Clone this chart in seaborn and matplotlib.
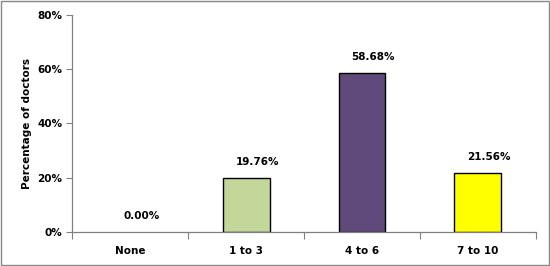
import matplotlib
matplotlib.use("Agg")
import matplotlib.pyplot as plt
import seaborn as sns
import pandas as pd
from matplotlib.ticker import PercentFormatter, FixedLocator
from matplotlib.patches import Rectangle

categories = ["None", "1 to 3", "4 to 6", "7 to 10"]
values = [0.00, 19.76, 58.68, 21.56]
colors = ["#FFFFFF", "#C4D79B", "#604A7B", "#FFFF00"]
labels = ["0.00%", "19.76%", "58.68%", "21.56%"]
yticks = [0, 20, 40, 60, 80]

df = pd.DataFrame({"cat": categories, "val": values})

sns.set_style("white")
plt.rcParams["font.family"] = ["DejaVu Sans"]
plt.rcParams["text.color"] = "black"
plt.rcParams["xtick.color"] = "black"
plt.rcParams["ytick.color"] = "black"
plt.rcParams["axes.labelcolor"] = "black"

fig = plt.figure(figsize=(5.5, 2.66), dpi=100)
ax = fig.add_axes([0.131, 0.128, 0.8435, 0.8155])

sns.barplot(data=df, x="cat", y="val", hue="cat", palette=colors, order=categories,
            width=0.405, edgecolor="black", linewidth=1.0, legend=False, ax=ax,
            saturation=1)
# zero-height bar draws nothing visible in reference
ax.patches[0].set_edgecolor("none")

ax.set_ylim(0, 80)
ax.set_xlim(-0.5, 3.5)
ax.yaxis.set_major_locator(FixedLocator(yticks))
ax.yaxis.set_major_formatter(PercentFormatter(decimals=0))
ax.set_xlabel("")
ax.set_ylabel("Percentage of doctors", fontsize=7.5, fontweight="bold", labelpad=4)

for lab in ax.get_yticklabels():
    lab.set_fontweight("bold")
    lab.set_fontsize(7.5)
ax.tick_params(axis="y", length=4, width=0.8, color="#808080", labelcolor="black",
               direction="out", left=True, pad=3)

ax.tick_params(axis="x", which="major", length=0, pad=10, labelsize=7.5, labelcolor="black")
for lab in ax.get_xticklabels():
    lab.set_fontweight("bold")
ax.set_xticks([-0.5, 0.5, 1.5, 2.5, 3.5], minor=True)
ax.tick_params(axis="x", which="minor", length=5, width=0.8, color="#808080", direction="out", bottom=True)

for s in ["top", "right"]:
    ax.spines[s].set_visible(False)
for s in ["left", "bottom"]:
    ax.spines[s].set_color("#808080")
    ax.spines[s].set_linewidth(0.9)

for i, (v, lab) in enumerate(zip(values, labels)):
    ax.annotate(lab, xy=(i, v), xytext=(8, 8), textcoords="offset points",
                ha="center", va="bottom", fontsize=7.5, fontweight="bold", color="black")

fig.patches.append(Rectangle((0.001, 0.002), 0.997, 0.995, transform=fig.transFigure,
                             fill=False, edgecolor="#888888", linewidth=1.0))

fig.savefig("out.png", dpi=100)
